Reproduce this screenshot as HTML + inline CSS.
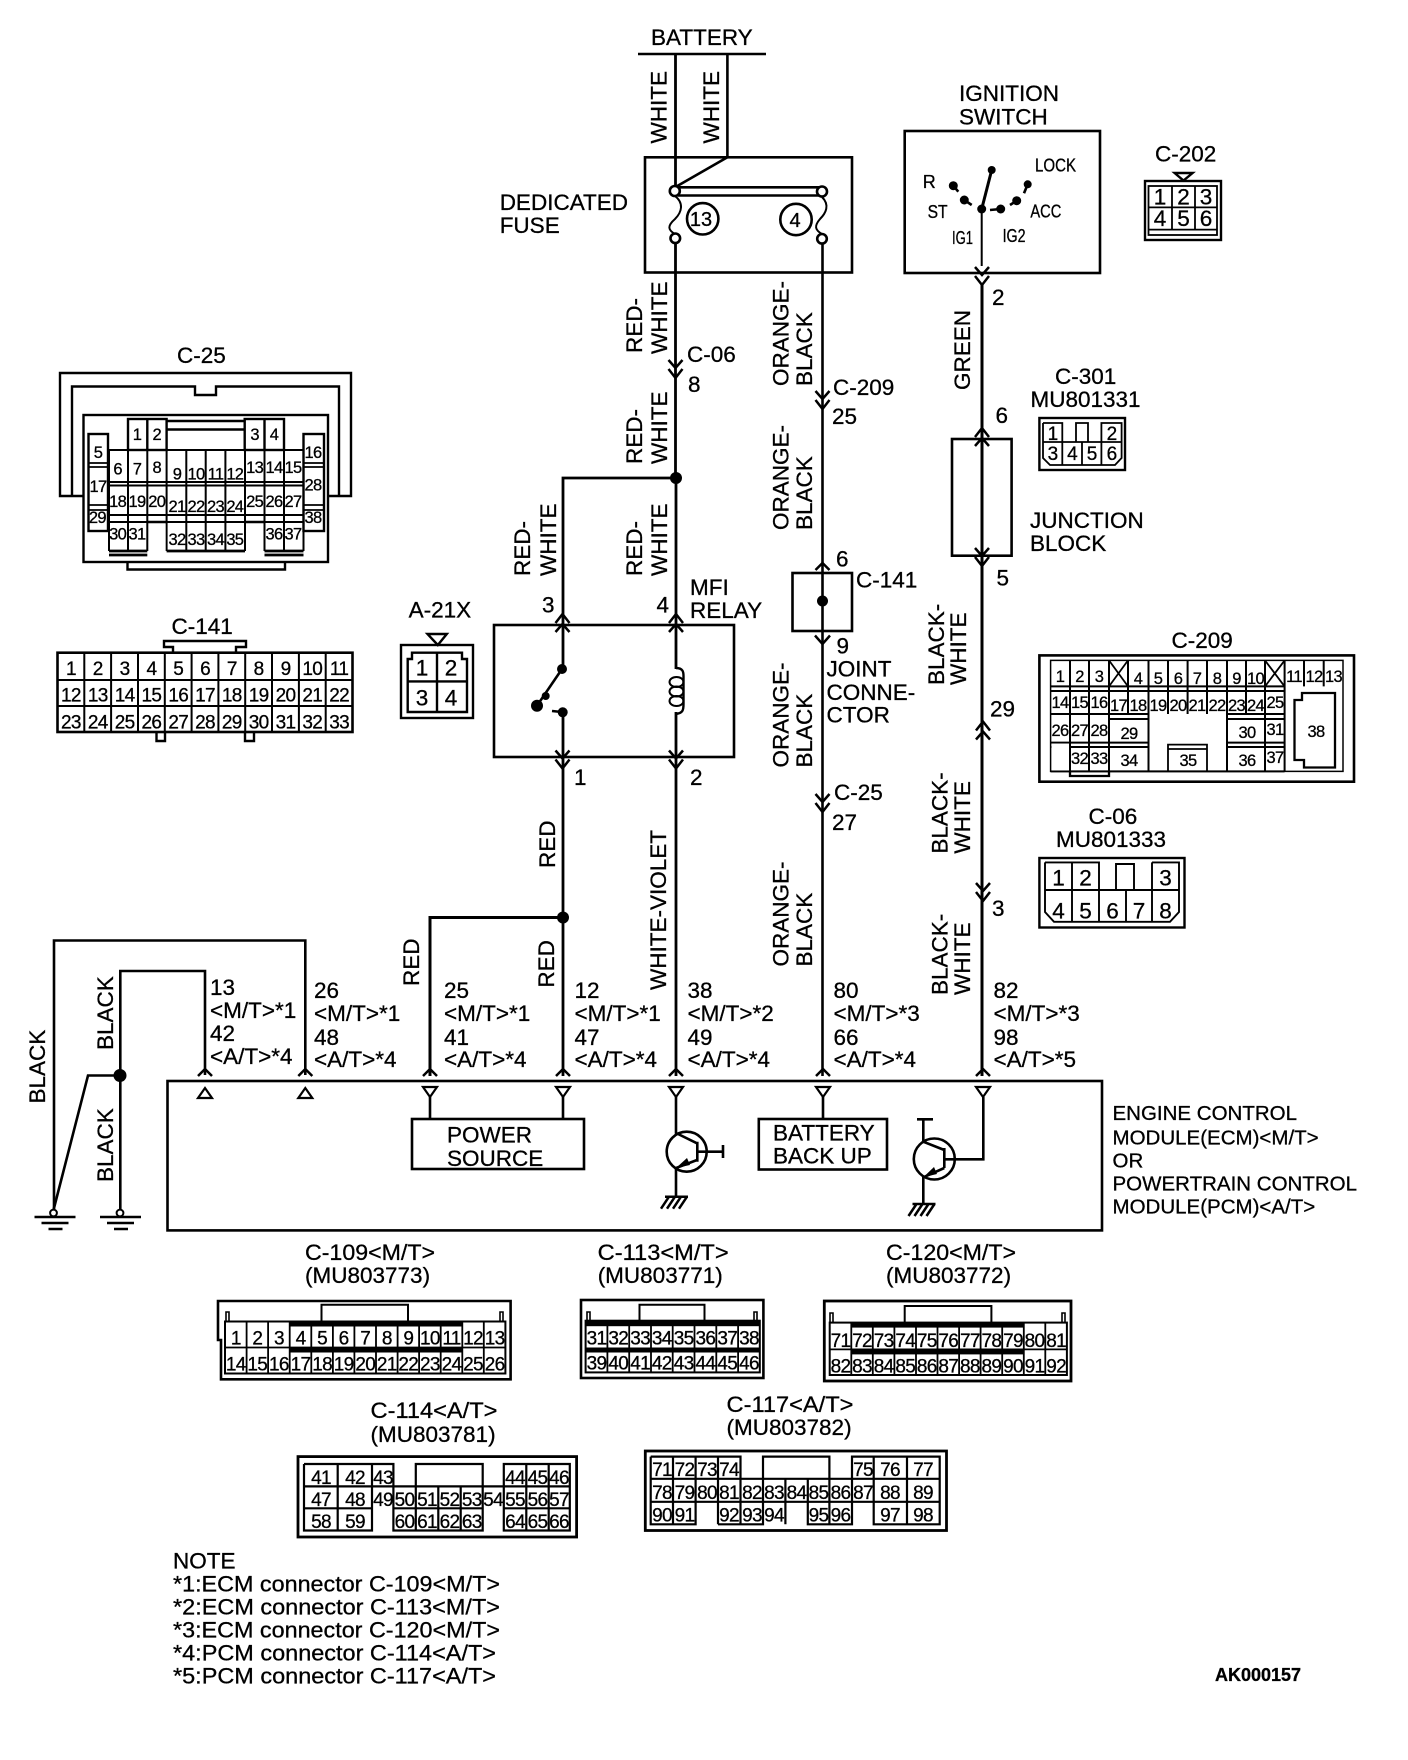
<!DOCTYPE html>
<html><head><meta charset="utf-8"><title>Wiring diagram</title>
<style>
html,body{margin:0;padding:0;background:#fff;width:1408px;height:1760px;overflow:hidden}
svg{display:block}
text{font-family:"Liberation Sans",sans-serif;font-size:22.5px;fill:#000;stroke:#000;stroke-width:.3px}
.m{text-anchor:middle}
.s{font-size:16.5px;letter-spacing:-.7px;text-anchor:middle}
.n{font-size:19px;letter-spacing:-.7px;text-anchor:middle}
.k{font-size:20px;text-anchor:middle}
.i{font-size:18px}
.l{stroke:#000;fill:none}
</style></head><body>
<svg width="1408" height="1760" viewBox="0 0 1408 1760" xmlns="http://www.w3.org/2000/svg">
<defs>
<path id="dn" d="M-7-9L0-1 7-9M-7 0L0 9 7 0" fill="none" stroke="#000" stroke-width="2.5"/>
<path id="up" d="M-7 9L0 1 7 9M-7 0L0-9 7 0" fill="none" stroke="#000" stroke-width="2.5"/>
<path id="u1" d="M-7 7L0 0 7 7" fill="none" stroke="#000" stroke-width="2.5"/>
<path id="gnd" d="M-20 4H21M-13 10H14M-6 16H8" fill="none" stroke="#000" stroke-width="2.5"/>
<path id="gn2" d="M0 0H23M4 0L-4 12M10 0L2 12M16 0L8 12M22 0L14 12" fill="none" stroke="#000" stroke-width="2.5"/>
<polygon id="td" points="-7,0 7,0 0,10" fill="#fff" stroke="#000" stroke-width="2.2"/>
<polygon id="tu" points="-7,10 7,10 0,0" fill="#fff" stroke="#000" stroke-width="2.2"/>
</defs>

<!-- wires and boxes -->
<g class="l" stroke-width="2.6">
<path d="M638 54H766"/>
<path d="M675.5 54V186M675.5 243V478" stroke-width="2.8"/>
<path d="M727.4 54V157.3L676 186.7"/>
<rect x="645" y="157.3" width="207" height="115.2"/>
<path d="M678 187.3H822M678 195.5H822"/>
<circle cx="674.8" cy="191" r="5" fill="#fff"/><circle cx="822" cy="191.5" r="5" fill="#fff"/>
<circle cx="675.3" cy="238.3" r="4.8" fill="#fff"/><circle cx="822" cy="238.8" r="4.8" fill="#fff"/>
<path d="M675 196C684 203 682 212 675 219C667 226 668 230 675 234" stroke-width="2"/>
<path d="M822 197C830 205 826 213 820 219C814 226 815 230 822 234" stroke-width="2"/>
<circle cx="702.7" cy="218.8" r="15.7"/><circle cx="796" cy="219.5" r="15.7"/>
<path d="M822.5 243V1076" stroke-width="2.6"/>
<path d="M676 478V669M676 712V1076" stroke-width="2.8"/>
<path d="M563 576V478H676" stroke-width="2.8"/>
<path d="M563 576V669M563 712V1076" stroke-width="2.8"/>
<path d="M563 917.5H430V1076" stroke-width="3"/>
<rect x="494" y="625" width="240" height="132"/>
<path d="M676 668C683 668 683.5 672 683.5 676V704C683.5 710 683 713 676 714" stroke-width="2.4"/>
<ellipse cx="676.5" cy="682" rx="7" ry="5" stroke-width="2"/><ellipse cx="676.5" cy="691.5" rx="7" ry="5" stroke-width="2"/><ellipse cx="676.5" cy="701" rx="7" ry="5" stroke-width="2"/>
<path d="M562 669L537 705.7" stroke-width="2.6"/>
<path d="M552 711L562 712"/>
<path d="M205 1075V971H120.3V1213"/>
<path d="M305.3 1075V940.5H54V1210"/>
<path d="M120.3 1075.5H88L53.5 1210"/>
<rect x="167.5" y="1081" width="934.5" height="149.4"/>
<rect x="412" y="1119" width="172" height="50"/>
<rect x="758.8" y="1119" width="128.2" height="50.5"/>
<path d="M430 1097V1119M563 1097V1119M823 1097V1119"/>
<path d="M676 1097V1133L697 1143.3M697.3 1141.7V1161.7M697 1151.7H723M723 1145V1158M697 1160L676 1168V1196"/>
<circle cx="686.7" cy="1151.7" r="20"/>
<path d="M983.3 1097V1159.3H944.3M944.3 1148V1168M944.3 1150L923.3 1141.7V1119.3M917 1119.3H933M944.3 1168L923.3 1177.3V1203"/>
<circle cx="934.3" cy="1159" r="20.5"/>
<rect x="904.7" y="131" width="195.3" height="142"/>
<path d="M981.7 209V266" stroke-width="2"/>
<path d="M981.7 209L991.7 170" stroke-width="3"/>
<path d="M953.3 185.7L958.3 191.7M964.3 200L971.7 205M1000.7 209L990 210M1016.7 200.7L1010 205M1027.7 184.3L1024 193.3" stroke-width="2.6"/>
<path d="M982 285V1076" stroke-width="3"/>
<rect x="952" y="439" width="59.6" height="116.7"/>
<rect x="792.5" y="573" width="59.5" height="58"/>
</g>
<use href="#gnd" x="54.5" y="1213"/><use href="#gnd" x="120" y="1213"/>
<circle cx="53.5" cy="1213" r="3.4" fill="#fff" stroke="#000" stroke-width="2"/>
<circle cx="120" cy="1213" r="3.4" fill="#fff" stroke="#000" stroke-width="2"/>
<use href="#gn2" x="665" y="1196.7"/><use href="#gn2" x="912.5" y="1204"/>
<g fill="#000">
<circle cx="676" cy="478" r="6"/><circle cx="563" cy="917.5" r="6"/><circle cx="120" cy="1075.5" r="6.5"/><circle cx="822.5" cy="601" r="5.5"/>
<circle cx="562" cy="669" r="5"/><circle cx="537" cy="705.7" r="6"/><circle cx="545.7" cy="696" r="4"/><circle cx="562.7" cy="712.3" r="5"/>
<circle cx="981.7" cy="209" r="4.5"/><circle cx="991.7" cy="170" r="4"/><circle cx="953.3" cy="185.7" r="4.5"/><circle cx="964.3" cy="200" r="4.5"/><circle cx="1000.7" cy="209" r="4.5"/><circle cx="1016.7" cy="200.7" r="4.5"/><circle cx="1027.7" cy="184.3" r="4"/>
<polygon points="676,1168 687,1158 690,1165"/><polygon points="923.3,1177.3 934,1167 937,1174"/>
</g>
<use href="#dn" x="675.5" y="369"/><use href="#dn" x="822.5" y="400"/><use href="#dn" x="822.5" y="803"/><use href="#dn" x="982" y="276"/><use href="#dn" x="982" y="557"/><use href="#dn" x="983" y="892"/><use href="#dn" x="562.5" y="759.5"/><use href="#dn" x="676" y="759.5"/>
<use href="#up" x="562.5" y="623"/><use href="#up" x="676" y="623"/><use href="#up" x="982" y="437"/><use href="#up" x="983" y="730.5"/>
<use href="#u1" x="822.5" y="563"/>
<path d="M815 635.5L822.5 644 830 635.5" class="l" stroke-width="2.5"/>
<use href="#u1" x="205" y="1069"/><use href="#u1" x="305.3" y="1069"/><use href="#u1" x="430" y="1069"/><use href="#u1" x="563" y="1069"/><use href="#u1" x="676" y="1069"/><use href="#u1" x="823" y="1069"/><use href="#u1" x="983" y="1069"/>
<use href="#tu" x="205" y="1088"/><use href="#tu" x="305.3" y="1088"/>
<use href="#td" x="430" y="1087"/><use href="#td" x="563" y="1087"/><use href="#td" x="676" y="1087"/><use href="#td" x="823" y="1087"/><use href="#td" x="983" y="1087"/>

<!-- main labels -->
<text x="651" y="45">BATTERY</text>
<text transform="translate(666.5,143.5) rotate(-90)">WHITE</text>
<text transform="translate(719,143.5) rotate(-90)">WHITE</text>
<text x="499.7" y="210">DEDICATED</text><text x="499.7" y="233">FUSE</text>
<text class="k" x="701" y="226">13</text><text class="k" x="795" y="227">4</text>
<text transform="translate(642,353) rotate(-90)">RED-</text><text transform="translate(667,354) rotate(-90)">WHITE</text>
<text transform="translate(642,464) rotate(-90)">RED-</text><text transform="translate(667,464) rotate(-90)">WHITE</text>
<text transform="translate(642,576) rotate(-90)">RED-</text><text transform="translate(667,576) rotate(-90)">WHITE</text>
<text transform="translate(530,576) rotate(-90)">RED-</text><text transform="translate(556,576) rotate(-90)">WHITE</text>
<text x="687" y="362">C-06</text><text x="688" y="392">8</text>
<text x="542" y="612.5">3</text><text x="656.5" y="612.5">4</text>
<text x="690" y="595">MFI</text><text x="690" y="618">RELAY</text>
<text x="574" y="785">1</text><text x="690" y="785">2</text>
<text transform="translate(555,868) rotate(-90)">RED</text>
<text transform="translate(419,986) rotate(-90)">RED</text>
<text transform="translate(554,987.6) rotate(-90)">RED</text>
<text transform="translate(666,990) rotate(-90)">WHITE-VIOLET</text>
<text transform="translate(45,1103.5) rotate(-90)">BLACK</text>
<text transform="translate(113,1050) rotate(-90)">BLACK</text>
<text transform="translate(113,1182) rotate(-90)">BLACK</text>
<text transform="translate(788.4,386) rotate(-90)">ORANGE-</text><text transform="translate(812,386) rotate(-90)">BLACK</text>
<text transform="translate(788.4,530) rotate(-90)">ORANGE-</text><text transform="translate(812,530) rotate(-90)">BLACK</text>
<text transform="translate(788.4,767.5) rotate(-90)">ORANGE-</text><text transform="translate(812,767.5) rotate(-90)">BLACK</text>
<text transform="translate(788.4,966.5) rotate(-90)">ORANGE-</text><text transform="translate(812,966.5) rotate(-90)">BLACK</text>
<text x="833" y="395">C-209</text><text x="832" y="424">25</text>
<text x="836" y="566.4">6</text><text x="856" y="587.5">C-141</text><text x="836.5" y="653.5">9</text>
<text x="826.5" y="676.4">JOINT</text><text x="826.5" y="699.8">CONNE-</text><text x="826.5" y="722.7">CTOR</text>
<text x="834" y="800">C-25</text><text x="832" y="830">27</text>
<text x="959" y="101">IGNITION</text><text x="959" y="124.4">SWITCH</text>
<text class="i" x="922.7" y="188">R</text><text class="i" x="1035" y="171.5" textLength="41" lengthAdjust="spacingAndGlyphs">LOCK</text>
<text class="i" x="927.6" y="218" textLength="20" lengthAdjust="spacingAndGlyphs">ST</text><text class="i" x="1030.4" y="217.4" textLength="31" lengthAdjust="spacingAndGlyphs">ACC</text>
<text class="i" x="952" y="243.8" textLength="21" lengthAdjust="spacingAndGlyphs">IG1</text><text class="i" x="1002.6" y="242" textLength="23" lengthAdjust="spacingAndGlyphs">IG2</text>
<text x="992" y="305">2</text>
<text transform="translate(970,390) rotate(-90)">GREEN</text>
<text x="995.5" y="423">6</text><text x="996.5" y="585.5">5</text>
<text x="1030" y="528">JUNCTION</text><text x="1030" y="551">BLOCK</text>
<text transform="translate(944,685) rotate(-90)">BLACK-</text><text transform="translate(966,685) rotate(-90)">WHITE</text>
<text transform="translate(947.4,853.6) rotate(-90)">BLACK-</text><text transform="translate(970,853.6) rotate(-90)">WHITE</text>
<text transform="translate(947.4,995) rotate(-90)">BLACK-</text><text transform="translate(970,995) rotate(-90)">WHITE</text>
<text x="990" y="716.6">29</text><text x="992" y="916">3</text>

<!-- pin labels -->
<text x="210" y="995">13</text><text x="210" y="1018">&lt;M/T&gt;*1</text><text x="210" y="1041">42</text><text x="210" y="1064">&lt;A/T&gt;*4</text>
<text x="314" y="998">26</text><text x="314" y="1021">&lt;M/T&gt;*1</text><text x="314" y="1045">48</text><text x="314" y="1067">&lt;A/T&gt;*4</text>
<text x="444" y="998">25</text><text x="444" y="1021">&lt;M/T&gt;*1</text><text x="444" y="1045">41</text><text x="444" y="1067">&lt;A/T&gt;*4</text>
<text x="574.5" y="998">12</text><text x="574.5" y="1021">&lt;M/T&gt;*1</text><text x="574.5" y="1045">47</text><text x="574.5" y="1067">&lt;A/T&gt;*4</text>
<text x="687.5" y="998">38</text><text x="687.5" y="1021">&lt;M/T&gt;*2</text><text x="687.5" y="1045">49</text><text x="687.5" y="1067">&lt;A/T&gt;*4</text>
<text x="833.5" y="998">80</text><text x="833.5" y="1021">&lt;M/T&gt;*3</text><text x="833.5" y="1045">66</text><text x="833.5" y="1067">&lt;A/T&gt;*4</text>
<text x="993.5" y="998">82</text><text x="993.5" y="1021">&lt;M/T&gt;*3</text><text x="993.5" y="1045">98</text><text x="993.5" y="1067">&lt;A/T&gt;*5</text>
<text x="447" y="1142.6">POWER</text><text x="447" y="1166">SOURCE</text>
<text x="773" y="1140.6">BATTERY</text><text x="773" y="1163.6">BACK UP</text>
<g><text style="font-size:20.5px" x="1112.5" y="1120">ENGINE CONTROL</text><text style="font-size:20.5px" x="1112.5" y="1144.5">MODULE(ECM)&lt;M/T&gt;</text><text style="font-size:20.5px" x="1112.5" y="1167.5">OR</text><text style="font-size:20.5px" x="1112.5" y="1190.6">POWERTRAIN CONTROL</text><text style="font-size:20.5px" x="1112.5" y="1213.6">MODULE(PCM)&lt;A/T&gt;</text></g>

<!-- C-25 -->
<text x="177" y="363">C-25</text>
<g class="l" stroke-width="2.4">
<path d="M83.5 496H60V373H351V496H328M83.5 496H72V386.5H195V395H216V386.5H339V496H328" />
<rect x="83.5" y="415" width="244.5" height="147"/>
<path d="M127.5 562V569.5H285V562"/>
<rect x="128" y="419" width="38.6" height="31"/><path d="M147.3 419V450"/>
<rect x="244.7" y="419" width="39.3" height="31"/><path d="M264.5 419V450"/>
<path d="M166.6 421H244.7M166.6 429.5H244.7"/>
<rect x="88.5" y="434" width="19.5" height="97"/><rect x="303.5" y="434" width="20.5" height="97"/>
<path d="M88.5 463H108M88.5 467H108M88.5 505H108M88.5 510H108M303.5 463H324M303.5 467H324M303.5 505H324M303.5 510H324" stroke-width="1.8"/>
<path d="M109 450H303.5M109 482H303.5M109 485.5H303.5M109 515H303.5M109 522H147M166.6 522H245M264.5 522H303.5" stroke-width="2"/>
<path d="M109 450V551M128 450V551M147.3 450V551M166.6 450V551M186.3 450V551M205.7 450V551M225.4 450V551M245 450V551M264.5 450V551M284 450V551M303.5 450V551" stroke-width="2"/>
<path d="M109 551H147.3M166.6 551H245M264.5 551H303.5M109 555H147.3M264.5 555H303.5" stroke-width="2.8"/>
<path d="M147.3 522H166.6M245 522H264.5" />
</g>
<rect x="148.6" y="523.5" width="17" height="30" fill="#fff"/><rect x="246.3" y="523.5" width="17" height="30" fill="#fff"/>
<text class="s" x="137" y="440">1</text><text class="s" x="156.7" y="440">2</text><text class="s" x="254.6" y="440">3</text><text class="s" x="274" y="440">4</text>
<text class="s" x="98" y="458">5</text><text class="s" x="313" y="458">16</text>
<text class="s" x="117.6" y="474.5">6</text><text class="s" x="137" y="474.5">7</text><text class="s" x="156.7" y="473">8</text>
<text class="s" x="177" y="479.5">9</text><text class="s" x="196" y="479.5">10</text><text class="s" x="215.5" y="479.5">11</text><text class="s" x="234.8" y="479.5">12</text>
<text class="s" x="254.6" y="473">13</text><text class="s" x="274" y="473">14</text><text class="s" x="293" y="473">15</text>
<text class="s" x="98" y="491.8">17</text><text class="s" x="313" y="490.6">28</text>
<text class="s" x="117.6" y="507">18</text><text class="s" x="137" y="507">19</text><text class="s" x="156.7" y="507">20</text>
<text class="s" x="177" y="512">21</text><text class="s" x="196" y="512">22</text><text class="s" x="215.5" y="512">23</text><text class="s" x="234.8" y="512">24</text>
<text class="s" x="254.6" y="507">25</text><text class="s" x="274" y="507">26</text><text class="s" x="293" y="507">27</text>
<text class="s" x="97.4" y="523">29</text><text class="s" x="313" y="523">38</text>
<text class="s" x="117.6" y="539.6">30</text><text class="s" x="137" y="539.6">31</text>
<text class="s" x="177" y="545">32</text><text class="s" x="196" y="545">33</text><text class="s" x="215.5" y="545">34</text><text class="s" x="234.8" y="545">35</text>
<text class="s" x="274" y="539.6">36</text><text class="s" x="293" y="539.6">37</text>

<!-- C-141 -->
<text x="171.5" y="634">C-141</text>
<g class="l" stroke-width="2.4">
<path d="M173 652.7V647H164V641H246V647H236V652.7"/>
<rect x="57.5" y="652.7" width="295" height="79.3" stroke-width="2.6"/>
<path d="M57.5 680H352.5M57.5 706H352.5M84.3 652.7V732M111.1 652.7V732M138 652.7V732M164.8 652.7V732M191.6 652.7V732M218.4 652.7V732M245.2 652.7V732M272 652.7V732M298.9 652.7V732M325.7 652.7V732" stroke-width="2"/>
<path d="M156.5 732V741H165V732M245 732V741H254V732"/>
</g>
<g>
<text class="n" x="70.9" y="675">1</text><text class="n" x="97.7" y="675">2</text><text class="n" x="124.6" y="675">3</text><text class="n" x="151.4" y="675">4</text><text class="n" x="178.2" y="675">5</text><text class="n" x="205" y="675">6</text><text class="n" x="231.8" y="675">7</text><text class="n" x="258.6" y="675">8</text><text class="n" x="285.5" y="675">9</text><text class="n" x="312.3" y="675">10</text><text class="n" x="339.1" y="675">11</text>
<text class="n" x="70.9" y="701.7">12</text><text class="n" x="97.7" y="701.7">13</text><text class="n" x="124.6" y="701.7">14</text><text class="n" x="151.4" y="701.7">15</text><text class="n" x="178.2" y="701.7">16</text><text class="n" x="205" y="701.7">17</text><text class="n" x="231.8" y="701.7">18</text><text class="n" x="258.6" y="701.7">19</text><text class="n" x="285.5" y="701.7">20</text><text class="n" x="312.3" y="701.7">21</text><text class="n" x="339.1" y="701.7">22</text>
<text class="n" x="70.9" y="728.5">23</text><text class="n" x="97.7" y="728.5">24</text><text class="n" x="124.6" y="728.5">25</text><text class="n" x="151.4" y="728.5">26</text><text class="n" x="178.2" y="728.5">27</text><text class="n" x="205" y="728.5">28</text><text class="n" x="231.8" y="728.5">29</text><text class="n" x="258.6" y="728.5">30</text><text class="n" x="285.5" y="728.5">31</text><text class="n" x="312.3" y="728.5">32</text><text class="n" x="339.1" y="728.5">33</text>
</g>

<!-- A-21X -->
<text x="408.6" y="617.5">A-21X</text>
<g class="l" stroke-width="2.4">
<polygon points="427.5,634 446.8,634 437.8,645"/>
<rect x="401" y="645" width="72" height="73"/>
<path d="M407.7 712V659H412V652.7H462V659H467V712Z"/>
<path d="M407.7 681.4H467M437 652.7V712"/>
</g>
<text class="m" x="422" y="675.7">1</text><text class="m" x="451" y="675.7">2</text><text class="m" x="422" y="705.5">3</text><text class="m" x="451" y="705.5">4</text>

<!-- C-202 -->
<text x="1155" y="161.5">C-202</text>
<g class="l" stroke-width="2.4">
<polygon points="1174.6,173 1192.6,173 1183.5,180.6"/>
<rect x="1145" y="181" width="76" height="59"/>
<rect x="1148.5" y="186" width="68.5" height="49" stroke-width="1.8"/>
<path d="M1172 186V229.6M1195 186V229.6M1148.5 207.4H1217M1148.5 229.6H1217" stroke-width="1.8"/>
</g>
<text class="m" x="1160" y="204.7">1</text><text class="m" x="1183.5" y="204.7">2</text><text class="m" x="1206" y="204.7">3</text><text class="m" x="1160" y="225.8">4</text><text class="m" x="1183.5" y="225.8">5</text><text class="m" x="1206" y="225.8">6</text>

<!-- C-301 -->
<text x="1055" y="384">C-301</text><text x="1030.5" y="406.8">MU801331</text>
<g class="l" stroke-width="2.4">
<rect x="1039.4" y="418" width="85.6" height="52"/>
<path d="M1043 423H1062.3V442M1101.4 442V423H1121.6V458L1115 465H1050L1043 458V423M1043 442H1121.6M1062.3 442V465M1082 442V465M1101.4 442V465M1076 442V423H1088V442" stroke-width="1.8"/>
</g>
<text class="n" x="1052.6" y="440">1</text><text class="n" x="1111.5" y="440">2</text><text class="n" x="1052.6" y="460">3</text><text class="n" x="1072" y="460">4</text><text class="n" x="1091.7" y="460">5</text><text class="n" x="1111.5" y="460">6</text>

<!-- C-209 -->
<text x="1171.5" y="648">C-209</text>
<g class="l" stroke-width="2.3">
<rect x="1039.4" y="655.4" width="314.6" height="126.3" stroke-width="2.6"/>
<path d="M1050.6 660.4H1343V771.4H1050.6Z" stroke-width="1.5"/>
<path d="M1050.6 686.4H1284.6M1050.6 691H1284.6M1050.6 714H1148.5M1227 714H1284.6M1109 719H1148.5M1227 719H1284.6M1050.6 742.6H1148.5M1227 742.6H1284.6M1050.6 747H1148.5M1227 747H1284.6M1050.6 771.4H1284.6" stroke-width="2"/>
<path d="M1070 660.4V771.4M1089 660.4V771.4M1109 660.4V771.4M1128 660.4V714M1148.5 660.4V771.4M1168 660.4V714M1187.6 660.4V714M1207 660.4V714M1227 660.4V771.4M1246 660.4V714M1265 660.4V771.4M1284.6 660.4V771.4M1304 660.4V686.4M1323.7 660.4V686.4" stroke-width="2"/>
<path d="M1109 660.4L1128 686.4M1128 660.4L1109 686.4M1265 660.4L1284.6 686.4M1284.6 660.4L1265 686.4" stroke-width="1.8"/>
<path d="M1294.5 700L1302 700V693H1335V767.5H1304V760H1294.5Z"/>
<path d="M1168 771V744.6H1207V771M1168 749H1207" stroke-width="1.8"/>
<path d="M1070 771.4V776H1109V771.4"/>
</g>
<rect x="1051.5" y="743.6" width="17.5" height="26.8" fill="#fff"/>
<text class="s" x="1060" y="682">1</text><text class="s" x="1079.5" y="682">2</text><text class="s" x="1099" y="682">3</text>
<text class="s" x="1138" y="684">4</text><text class="s" x="1158" y="684">5</text><text class="s" x="1178" y="684">6</text><text class="s" x="1197" y="684">7</text><text class="s" x="1217" y="684">8</text><text class="s" x="1236.5" y="684">9</text><text class="s" x="1255.5" y="684">10</text>
<text class="s" x="1294" y="682">11</text><text class="s" x="1314" y="682">12</text><text class="s" x="1333.5" y="682">13</text>
<text class="s" x="1060" y="708">14</text><text class="s" x="1079.5" y="708">15</text><text class="s" x="1099" y="708">16</text>
<text class="s" x="1118.5" y="711">17</text><text class="s" x="1138" y="711">18</text><text class="s" x="1158" y="711">19</text><text class="s" x="1178" y="711">20</text><text class="s" x="1197" y="711">21</text><text class="s" x="1217" y="711">22</text><text class="s" x="1236.5" y="711">23</text><text class="s" x="1255.5" y="711">24</text>
<text class="s" x="1275" y="708">25</text>
<text class="s" x="1060" y="736">26</text><text class="s" x="1079.5" y="736">27</text><text class="s" x="1099" y="736">28</text>
<text class="s" x="1129" y="739">29</text><text class="s" x="1247" y="738">30</text><text class="s" x="1275" y="735">31</text>
<text class="s" x="1316" y="737">38</text>
<text class="s" x="1079.5" y="764">32</text><text class="s" x="1099" y="764">33</text><text class="s" x="1129" y="766">34</text><text class="s" x="1188" y="766">35</text><text class="s" x="1247" y="766">36</text><text class="s" x="1275" y="763">37</text>

<!-- C-06 -->
<text x="1088.5" y="823.8">C-06</text><text x="1056" y="847">MU801333</text>
<g class="l" stroke-width="2.4">
<rect x="1039.4" y="858" width="145.1" height="69.5"/>
<path d="M1045 862.4H1099V890M1072 862.4V921.8M1045 890H1179M1099 890V921.8M1126 890V921.8M1152 862.4V921.8M1152 862.4H1179V912L1170 921.8H1054L1045 912V862.4M1116 890V864H1134V890" stroke-width="1.9"/>
</g>
<text class="m" x="1058.5" y="885.4">1</text><text class="m" x="1085.5" y="885.4">2</text><text class="m" x="1165.5" y="885.4">3</text>
<text class="m" x="1058.5" y="918.7">4</text><text class="m" x="1085.5" y="918.7">5</text><text class="m" x="1112.5" y="918.7">6</text><text class="m" x="1139" y="918.7">7</text><text class="m" x="1165.5" y="918.7">8</text>

<!-- C-109 -->
<text x="305" y="1260" textLength="130" lengthAdjust="spacingAndGlyphs">C-109&lt;M/T&gt;</text><text x="305" y="1283">(MU803773)</text>
<g class="l" stroke-width="2.6">
<path d="M218 1301H510.6V1379.3H221V1340H218Z"/>
<path d="M321.5 1321.5V1304.7H408V1321.5" stroke-width="2"/>
<path d="M226 1321V1312H229V1321M500 1321V1312H503V1321" stroke-width="1.6"/>
<rect x="225" y="1321.5" width="280.4" height="52" stroke-width="2"/>
<path d="M225 1347.5H505.4M246.6 1321.5V1373.5M268.1 1321.5V1373.5M289.7 1321.5V1373.5M311.3 1321.5V1373.5M332.9 1321.5V1373.5M354.4 1321.5V1373.5M376 1321.5V1373.5M397.6 1321.5V1373.5M419.1 1321.5V1373.5M440.7 1321.5V1373.5M462.3 1321.5V1373.5M483.8 1321.5V1373.5" stroke-width="1.8"/>
</g>
<rect x="289.7" y="1321.5" width="172.6" height="5" /><rect x="289.7" y="1347.5" width="172.6" height="5"/>
<text class="n" x="235.8" y="1344.5">1</text><text class="n" x="257.3" y="1344.5">2</text><text class="n" x="278.9" y="1344.5">3</text><text class="n" x="300.5" y="1344.5">4</text><text class="n" x="322.1" y="1344.5">5</text><text class="n" x="343.6" y="1344.5">6</text><text class="n" x="365.2" y="1344.5">7</text><text class="n" x="386.8" y="1344.5">8</text><text class="n" x="408.3" y="1344.5">9</text><text class="n" x="429.9" y="1344.5">10</text><text class="n" x="451.5" y="1344.5">11</text><text class="n" x="473" y="1344.5">12</text><text class="n" x="494.6" y="1344.5">13</text>
<text class="n" x="235.8" y="1370.5">14</text><text class="n" x="257.3" y="1370.5">15</text><text class="n" x="278.9" y="1370.5">16</text><text class="n" x="300.5" y="1370.5">17</text><text class="n" x="322.1" y="1370.5">18</text><text class="n" x="343.6" y="1370.5">19</text><text class="n" x="365.2" y="1370.5">20</text><text class="n" x="386.8" y="1370.5">21</text><text class="n" x="408.3" y="1370.5">22</text><text class="n" x="429.9" y="1370.5">23</text><text class="n" x="451.5" y="1370.5">24</text><text class="n" x="473" y="1370.5">25</text><text class="n" x="494.6" y="1370.5">26</text>

<!-- C-113 -->
<text x="597.7" y="1260" textLength="131" lengthAdjust="spacingAndGlyphs">C-113&lt;M/T&gt;</text><text x="597.7" y="1283">(MU803771)</text>
<g class="l" stroke-width="2.6">
<rect x="581" y="1300" width="182.4" height="78"/>
<path d="M639.5 1320.7V1304.7H704.5V1320.7" stroke-width="2"/>
<path d="M587 1320V1312H590V1320M754 1320V1312H757V1320" stroke-width="1.6"/>
<rect x="585.6" y="1320.7" width="174.2" height="51.7" stroke-width="2"/>
<path d="M607.4 1320.7V1372.4M629.2 1320.7V1372.4M651 1320.7V1372.4M672.7 1320.7V1372.4M694.5 1320.7V1372.4M716.3 1320.7V1372.4M738.1 1320.7V1372.4" stroke-width="1.8"/>
</g>
<rect x="585.6" y="1320.7" width="174.2" height="5.5"/><rect x="585.6" y="1347.5" width="174.2" height="5"/>
<text class="n" x="596.5" y="1344.5">31</text><text class="n" x="618.3" y="1344.5">32</text><text class="n" x="640.1" y="1344.5">33</text><text class="n" x="661.8" y="1344.5">34</text><text class="n" x="683.6" y="1344.5">35</text><text class="n" x="705.4" y="1344.5">36</text><text class="n" x="727.2" y="1344.5">37</text><text class="n" x="749" y="1344.5">38</text>
<text class="n" x="596.5" y="1369.7">39</text><text class="n" x="618.3" y="1369.7">40</text><text class="n" x="640.1" y="1369.7">41</text><text class="n" x="661.8" y="1369.7">42</text><text class="n" x="683.6" y="1369.7">43</text><text class="n" x="705.4" y="1369.7">44</text><text class="n" x="727.2" y="1369.7">45</text><text class="n" x="749" y="1369.7">46</text>

<!-- C-120 -->
<text x="886" y="1260" textLength="130" lengthAdjust="spacingAndGlyphs">C-120&lt;M/T&gt;</text><text x="886" y="1283">(MU803772)</text>
<g class="l" stroke-width="2.6">
<rect x="824.3" y="1301" width="246.7" height="80" stroke-width="2.8"/>
<path d="M904.7 1322.6V1306H991.4V1322.6" stroke-width="2"/>
<path d="M830 1322V1313H833V1322M1062 1322V1313H1065V1322" stroke-width="1.6"/>
<rect x="829.7" y="1322.6" width="237.2" height="52.4" stroke-width="2"/>
<path d="M829.7 1349.4H1066.9M851.3 1322.6V1375M872.8 1322.6V1375M894.4 1322.6V1375M916 1322.6V1375M937.5 1322.6V1375M959.1 1322.6V1375M980.6 1322.6V1375M1002.2 1322.6V1375M1023.8 1322.6V1375M1045.3 1322.6V1375" stroke-width="1.8"/>
</g>
<rect x="851.3" y="1322.6" width="172.5" height="5"/><rect x="851.3" y="1349.4" width="172.5" height="5"/>
<text class="n" x="840.5" y="1346.8">71</text><text class="n" x="862" y="1346.8">72</text><text class="n" x="883.6" y="1346.8">73</text><text class="n" x="905.2" y="1346.8">74</text><text class="n" x="926.7" y="1346.8">75</text><text class="n" x="948.3" y="1346.8">76</text><text class="n" x="969.9" y="1346.8">77</text><text class="n" x="991.4" y="1346.8">78</text><text class="n" x="1013" y="1346.8">79</text><text class="n" x="1034.5" y="1346.8">80</text><text class="n" x="1056.1" y="1346.8">81</text>
<text class="n" x="840.5" y="1372.4">82</text><text class="n" x="862" y="1372.4">83</text><text class="n" x="883.6" y="1372.4">84</text><text class="n" x="905.2" y="1372.4">85</text><text class="n" x="926.7" y="1372.4">86</text><text class="n" x="948.3" y="1372.4">87</text><text class="n" x="969.9" y="1372.4">88</text><text class="n" x="991.4" y="1372.4">89</text><text class="n" x="1013" y="1372.4">90</text><text class="n" x="1034.5" y="1372.4">91</text><text class="n" x="1056.1" y="1372.4">92</text>

<!-- C-114 -->
<text x="370.5" y="1418" textLength="127" lengthAdjust="spacingAndGlyphs">C-114&lt;A/T&gt;</text><text x="370.5" y="1442">(MU803781)</text>
<g class="l" stroke-width="2.8">
<rect x="298" y="1456.6" width="278.6" height="80.4"/>
<path d="M304 1464H393.4V1486.4M304 1464V1530.5H372V1464M337.7 1464V1530.5M304 1486.4H569.8M304 1508.3H372M393.4 1508.3H482.7M503.8 1508.3H569.8M393.4 1486.4V1530.5H482.7V1486.4M415.8 1486.4V1530.5M438.3 1486.4V1530.5M460.7 1486.4V1530.5M415.8 1486.4V1464H482.7V1486.4M503.8 1486.4V1464H569.8V1530.5H503.8V1486.4M526.3 1464V1530.5M548.7 1464V1530.5M372 1486.4V1508.3" stroke-width="2.2"/>
</g>
<text class="n" x="321" y="1484">41</text><text class="n" x="355" y="1484">42</text><text class="n" x="383" y="1484">43</text><text class="n" x="515" y="1484">44</text><text class="n" x="537.5" y="1484">45</text><text class="n" x="559" y="1484">46</text>
<text class="n" x="321" y="1506">47</text><text class="n" x="355" y="1506">48</text><text class="n" x="383" y="1506">49</text><text class="n" x="404.5" y="1506">50</text><text class="n" x="427" y="1506">51</text><text class="n" x="449.5" y="1506">52</text><text class="n" x="471.7" y="1506">53</text><text class="n" x="493" y="1506">54</text><text class="n" x="515" y="1506">55</text><text class="n" x="537.5" y="1506">56</text><text class="n" x="559" y="1506">57</text>
<text class="n" x="321" y="1528">58</text><text class="n" x="355" y="1528">59</text><text class="n" x="404.5" y="1528">60</text><text class="n" x="427" y="1528">61</text><text class="n" x="449.5" y="1528">62</text><text class="n" x="471.7" y="1528">63</text><text class="n" x="515" y="1528">64</text><text class="n" x="537.5" y="1528">65</text><text class="n" x="559" y="1528">66</text>

<!-- C-117 -->
<text x="726.5" y="1411.8" textLength="127" lengthAdjust="spacingAndGlyphs">C-117&lt;A/T&gt;</text><text x="726.5" y="1434.8">(MU803782)</text>
<g class="l" stroke-width="2.8">
<rect x="645.3" y="1451" width="301.2" height="79.5"/>
<path d="M650.7 1456.6H740.5V1478.8M650.7 1456.6V1524.3H695.6V1501.8M673 1456.6V1524.3M695.6 1456.6V1501.8M718 1456.6V1524.3M740.5 1478.8V1524.3M763 1478.8V1524.3H718M785.4 1478.8V1524.3M650.7 1478.8H939.7M650.7 1501.8H939.7M763 1478.8V1456.6H829.4V1478.8M807.8 1478.8V1524.3H852V1478.8M829.4 1478.8V1524.3M852 1478.8V1456.6H939.7V1524.3H873.7V1456.6M907 1456.6V1524.3M873.7 1478.8V1501.8" stroke-width="2.2"/>
</g>
<text class="n" x="662" y="1476">71</text><text class="n" x="684.5" y="1476">72</text><text class="n" x="707" y="1476">73</text><text class="n" x="729" y="1476">74</text><text class="n" x="863" y="1476">75</text><text class="n" x="890" y="1476">76</text><text class="n" x="923" y="1476">77</text>
<text class="n" x="662" y="1499">78</text><text class="n" x="684.5" y="1499">79</text><text class="n" x="707" y="1499">80</text><text class="n" x="729" y="1499">81</text><text class="n" x="752" y="1499">82</text><text class="n" x="774" y="1499">83</text><text class="n" x="796.5" y="1499">84</text><text class="n" x="818.5" y="1499">85</text><text class="n" x="840.5" y="1499">86</text><text class="n" x="863" y="1499">87</text><text class="n" x="890" y="1499">88</text><text class="n" x="923" y="1499">89</text>
<text class="n" x="662" y="1521.5">90</text><text class="n" x="684.5" y="1521.5">91</text><text class="n" x="729" y="1521.5">92</text><text class="n" x="752" y="1521.5">93</text><text class="n" x="774" y="1521.5">94</text><text class="n" x="818.5" y="1521.5">95</text><text class="n" x="840.5" y="1521.5">96</text><text class="n" x="890" y="1521.5">97</text><text class="n" x="923" y="1521.5">98</text>

<!-- notes -->
<text x="173" y="1568.7">NOTE</text>
<text x="173" y="1591.7" textLength="327" lengthAdjust="spacingAndGlyphs">*1:ECM connector C-109&lt;M/T&gt;</text>
<text x="173" y="1614.6" textLength="327" lengthAdjust="spacingAndGlyphs">*2:ECM connector C-113&lt;M/T&gt;</text>
<text x="173" y="1637.6" textLength="327" lengthAdjust="spacingAndGlyphs">*3:ECM connector C-120&lt;M/T&gt;</text>
<text x="173" y="1660.6" textLength="323" lengthAdjust="spacingAndGlyphs">*4:PCM connector C-114&lt;A/T&gt;</text>
<text x="173" y="1683.5" textLength="323" lengthAdjust="spacingAndGlyphs">*5:PCM connector C-117&lt;A/T&gt;</text>
<text x="1215" y="1681" style="font-size:18px;font-weight:bold">AK000157</text>
</svg>
</body></html>
